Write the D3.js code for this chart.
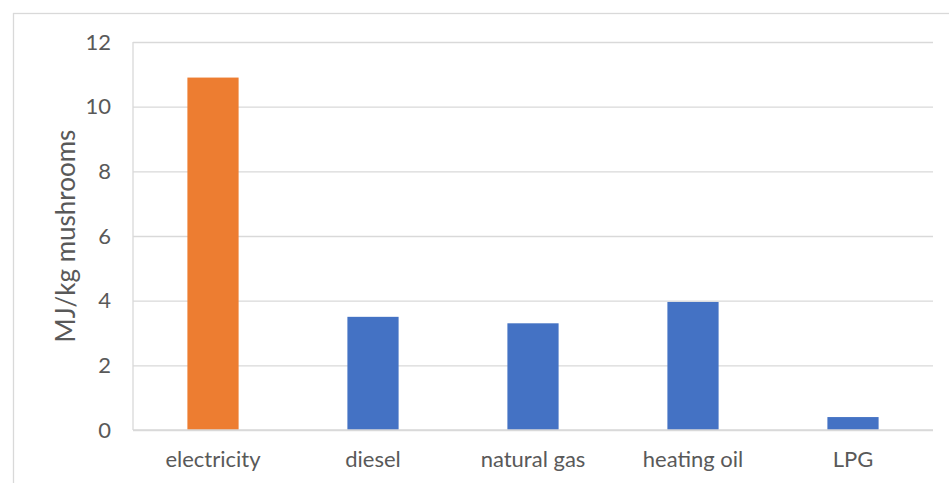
<!DOCTYPE html>
<html>
<head>
<meta charset="utf-8">
<script src="https://cdn.jsdelivr.net/npm/d3@7"></script>
<style>
  html, body { margin: 0; padding: 0; background: #fff; }
  svg { display: block; }
  text { font-family: Lato, "Open Sans", sans-serif; fill: #595959; }
</style>
</head>
<body>
<svg id="chart" width="949" height="483"></svg>
<script>
const categories = ["electricity", "diesel", "natural gas", "heating oil", "LPG"];
const values = [10.9, 3.5, 3.3, 3.96, 0.4];
const barColors = ["#ED7D31", "#4472C4", "#4472C4", "#4472C4", "#4472C4"];
const yTicks = [0, 2, 4, 6, 8, 10, 12];
const yTitle = "MJ/kg mushrooms";

const svg = d3.select("#chart");
const W = 949, H = 483;
const plot = { left: 133, right: 933, top: 42, bottom: 430 };

// chart frame
svg.append("rect")
  .attr("x", 13.5).attr("y", 13.5)
  .attr("width", W + 10).attr("height", H + 10)
  .attr("fill", "#fff").attr("stroke", "#D9D9D9").attr("stroke-width", 1.3);

const x = d3.scaleBand().domain(categories)
  .range([plot.left, plot.right]).paddingInner(0.68).paddingOuter(0.34);
const y = d3.scaleLinear().domain([0, 12]).range([plot.bottom, plot.top]);

// gridlines
const yAxis = d3.axisLeft(y).tickValues(yTicks).tickSize(-(plot.right - plot.left)).tickPadding(22)
  .tickFormat(d3.format("d"));
const gy = svg.append("g").attr("transform", `translate(${plot.left},0)`).call(yAxis);
gy.select(".domain").remove();
gy.selectAll(".tick line").attr("stroke", "#D9D9D9").attr("stroke-width", 1.3);
gy.selectAll(".tick text").attr("font-size", 22).attr("fill", "#595959")
  .style("font-family", "Lato, sans-serif");

// bars
svg.append("g").selectAll("rect").data(categories).join("rect")
  .attr("x", d => x(d))
  .attr("width", x.bandwidth())
  .attr("y", (d, i) => y(values[i]))
  .attr("height", (d, i) => y(0) - y(values[i]))
  .attr("fill", (d, i) => barColors[i]);

// left axis line & bottom axis line
svg.append("line").attr("x1", plot.left).attr("x2", plot.left)
  .attr("y1", plot.top).attr("y2", plot.bottom)
  .attr("stroke", "#D9D9D9").attr("stroke-width", 1.3);

const xAxis = d3.axisBottom(x).tickSize(0).tickPadding(21);
const gx = svg.append("g").attr("transform", `translate(0,${plot.bottom})`).call(xAxis);
gx.select(".domain").attr("stroke", "#D9D9D9").attr("stroke-width", 1.3)
  .attr("d", `M${plot.left},0H${plot.right}`);
gx.selectAll(".tick text").attr("font-size", 22).attr("fill", "#595959")
  .style("font-family", "Lato, sans-serif");

// y title
svg.append("text")
  .attr("transform", `translate(75,${(plot.top + plot.bottom) / 2}) rotate(-90)`)
  .attr("text-anchor", "middle")
  .attr("font-size", 26)
  .text(yTitle);
</script>
</body>
</html>
